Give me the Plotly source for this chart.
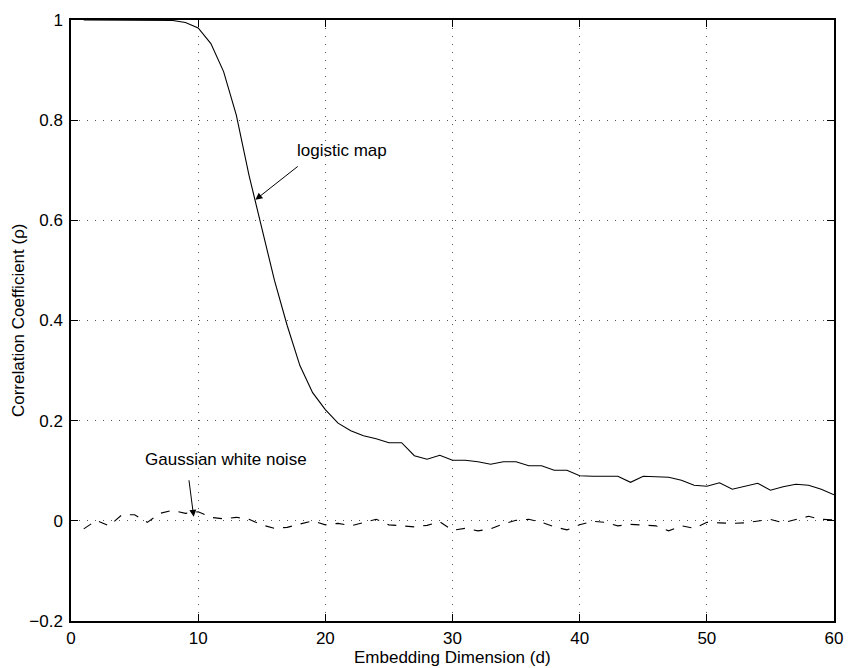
import plotly.graph_objects as go

dims = list(range(1, 61))
logistic_map = [1.0, 1.0, 1.0, 1.0, 1.0, 1.0, 1.0,
                0.999, 0.995, 0.984, 0.953, 0.897, 0.81, 0.69, 0.585, 0.48, 0.39, 0.31,
                0.256, 0.222, 0.195, 0.180, 0.170, 0.164, 0.156, 0.156, 0.130, 0.123,
                0.131, 0.121, 0.121, 0.118, 0.113, 0.118, 0.118, 0.110, 0.110, 0.101,
                0.101, 0.090, 0.089, 0.089, 0.089, 0.077, 0.089, 0.088, 0.087, 0.081,
                0.071, 0.069, 0.076, 0.063, 0.069, 0.075, 0.061, 0.068, 0.073, 0.071,
                0.063, 0.052]
white_noise = [-0.016, 0.001, -0.010, 0.012, 0.012, -0.003, 0.015, 0.021, 0.015, 0.018,
               0.007, 0.004, 0.007, 0.003, -0.008, -0.015, -0.013, -0.007, 0.0, -0.008,
               -0.005, -0.010, -0.004, 0.003, -0.008, -0.010, -0.012, -0.009, -0.002, -0.019,
               -0.015, -0.020, -0.016, -0.006, 0.001, 0.003, -0.003, -0.012, -0.018, -0.008,
               -0.001, -0.003, -0.010, -0.007, -0.008, -0.010, -0.020, -0.010, -0.015, -0.003,
               -0.004, -0.005, -0.004, 0.0, 0.003, -0.004, 0.002, 0.009, 0.003, 0.002]

x_ticks = [0, 10, 20, 30, 40, 50, 60]
y_ticks = [-0.2, 0, 0.2, 0.4, 0.6, 0.8, 1]
y_tick_text = ["\u22120.2", "0", "0.2", "0.4", "0.6", "0.8", "1"]

FONT = "Liberation Sans, Arial, Helvetica, sans-serif"
FS = 17

fig = go.Figure()
fig.add_trace(go.Scatter(x=dims, y=logistic_map, mode="lines",
                         line=dict(color="black", width=1.1), showlegend=False))
fig.add_trace(go.Scatter(x=dims, y=white_noise, mode="lines",
                         line=dict(color="black", width=1.1, dash="9px,9px"), showlegend=False))

axis_common = dict(
    showline=True, linecolor="black", linewidth=1.5, mirror="allticks",
    ticks="inside", ticklen=7, tickwidth=1, tickcolor="black",
    showgrid=True, gridcolor="#555555", gridwidth=1, griddash="1px,7px",
    zeroline=False, tickfont=dict(family=FONT, size=FS, color="black"),
)

fig.update_xaxes(range=[0, 60], tickvals=x_ticks, ticktext=[str(v) for v in x_ticks],
                 ticklabelstandoff=1, **axis_common)
fig.update_yaxes(range=[-0.2, 1], tickvals=y_ticks, ticktext=y_tick_text,
                 ticklabelstandoff=3, **axis_common)

# axis titles
fig.add_annotation(x=0.5, y=-0.061, xref="paper", yref="paper", text="Embedding Dimension (d)",
                   showarrow=False, xanchor="center", yanchor="middle",
                   font=dict(family=FONT, size=FS, color="black"))
fig.add_annotation(x=-0.0687, y=0.5, xref="paper", yref="paper", text="Correlation Coefficient (\u03c1)",
                   showarrow=False, xanchor="center", yanchor="middle", textangle=-90,
                   font=dict(family=FONT, size=FS, color="black"))

fig.add_annotation(x=14.5, y=0.641, ax=17.95, ay=0.710, xref="x", yref="y", axref="x", ayref="y",
                   showarrow=True, arrowhead=2, arrowsize=1.4, arrowwidth=1, arrowcolor="black", text="")
fig.add_annotation(x=21.3, y=0.740, xref="x", yref="y", text="logistic map", showarrow=False,
                   font=dict(family=FONT, size=FS, color="black"))
fig.add_annotation(x=9.65, y=0.008, ax=9.26, ay=0.084, xref="x", yref="y", axref="x", ayref="y",
                   showarrow=True, arrowhead=2, arrowsize=1.4, arrowwidth=1, arrowcolor="black", text="")
fig.add_annotation(x=12.2, y=0.1226, xref="x", yref="y", text="Gaussian white noise", showarrow=False,
                   font=dict(family=FONT, size=FS, color="black"))

fig.update_layout(width=854, height=668, margin=dict(l=71, r=12, t=11, b=47),
                  plot_bgcolor="white", paper_bgcolor="white",
                  font=dict(family=FONT, color="black"))

fig.write_html("out.html")
